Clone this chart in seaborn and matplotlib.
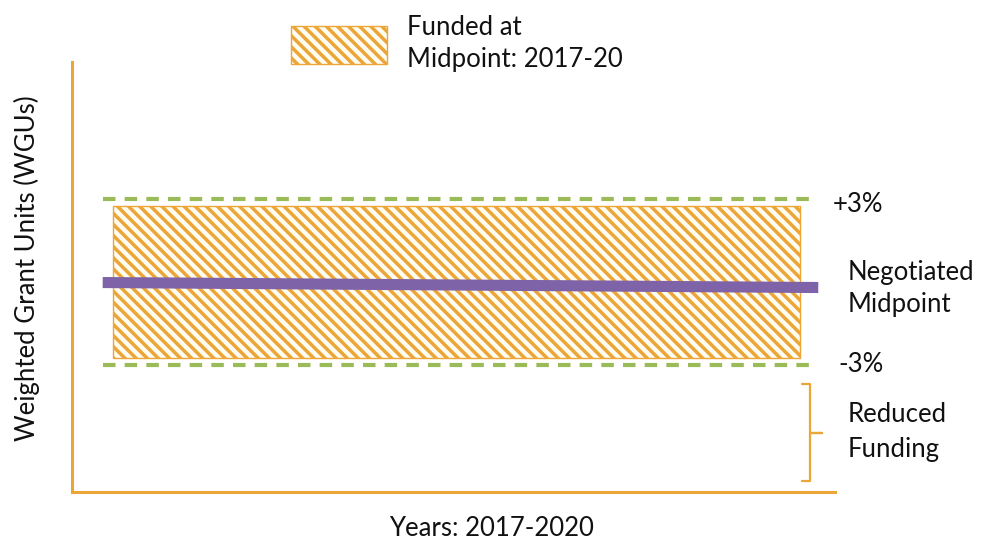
import numpy as np
import pandas as pd
import matplotlib
matplotlib.use("Agg")
import matplotlib.pyplot as plt
import seaborn as sns

# Funding corridor around the negotiated midpoint (in WGUs, midpoint = 100)
years = [2017, 2020]
midpoint_line = [99.98, 99.80]          # negotiated midpoint across the period
corridor = [97.0, 103.0]                # -3% / +3% thresholds
funded_band = [97.25, 102.75]           # funded-at-midpoint block
reduced_range = [96.3, 92.8]            # zone below -3% (reduced funding)
corridor_labels = ["+3%", "-3%"]

ORANGE = "#ECA637"
GREEN = "#9BBB59"
PURPLE = "#7F63A8"
TEXT = "#111111"
FS = 18.5

sns.set_theme(style="white")
plt.rcParams["font.family"] = ["Lato", "DejaVu Sans"]
plt.rcParams["hatch.linewidth"] = 2.5
plt.rcParams["hatch.color"] = ORANGE

W, H = 985, 541
fig = plt.figure(figsize=(W / 100, H / 100), dpi=100)
ax = fig.add_axes([72 / W, (H - 492) / H, (835 - 72) / W, (492 - 62) / H])

ax.set_xlim(2016.821, 2020.153)
ax.set_ylim(92.41, 107.95)

# funded block
ax.bar(years[0], funded_band[1] - funded_band[0], width=years[1] - years[0],
       bottom=funded_band[0], align="edge", facecolor="#FFFCF2",
       edgecolor=ORANGE, hatch="\\\\\\", linewidth=1.0,
       label="Funded at\nMidpoint: 2017-20", zorder=2)

# +/-3% thresholds
span = [years[0] - 0.045, years[1] + 0.075]
for level in corridor:
    df = pd.DataFrame({"year": span, "wgu": [level, level]})
    sns.lineplot(data=df, x="year", y="wgu", ax=ax, color=GREEN, lw=3.0,
                 linestyle=(0, (3.0, 2.2)), zorder=3)

# negotiated midpoint
mid_df = pd.DataFrame({"year": [years[0] - 0.045, years[1] + 0.08],
                       "wgu": midpoint_line})
sns.lineplot(data=mid_df, x="year", y="wgu", ax=ax, color=PURPLE, lw=8,
             solid_capstyle="butt", zorder=4)

# reduced funding bracket
bx = years[1] + 0.045
bracket_x = [bx - 0.035, bx, bx, bx + 0.05, bx, bx, bx - 0.035]
bmid = np.mean(reduced_range)
bracket_y = [reduced_range[0], reduced_range[0], bmid, bmid, bmid,
             reduced_range[1], reduced_range[1]]
ax.plot(bracket_x, bracket_y, color=ORANGE, lw=1.6, clip_on=False,
        solid_joinstyle="round")

# right-hand annotations
tx = years[1] + 0.21
ax.text(years[1] + 0.144, corridor[1] - 0.2, corridor_labels[0], fontsize=FS,
        va="center", ha="left", color=TEXT, clip_on=False)
ax.text(years[1] + 0.166, corridor[0], corridor_labels[1], fontsize=FS,
        va="center", ha="left", color=TEXT, clip_on=False)
ax.text(tx, np.mean(midpoint_line) - 0.12, "Negotiated\nMidpoint", fontsize=FS,
        va="center", ha="left", color=TEXT, linespacing=1.35,
        clip_on=False)
ax.text(tx, bmid + 0.02, "Reduced\nFunding", fontsize=FS,
        va="center", ha="left", color=TEXT, linespacing=1.5,
        clip_on=False)

# axes styling
ax.set_xticks([])
ax.set_yticks([])
for side in ["top", "right"]:
    ax.spines[side].set_visible(False)
for side in ["left", "bottom"]:
    ax.spines[side].set_color(ORANGE)
    ax.spines[side].set_linewidth(2.2)
ax.set_xlabel("")
ax.set_ylabel("")

fig.text(27 / W, 1 - 268 / H, "Weighted Grant Units (WGUs)", rotation=90,
         fontsize=FS, ha="center", va="center", color=TEXT)
fig.text(491 / W, 1 - 528 / H, "Years: 2017-2020", fontsize=FS,
         ha="center", va="center", color=TEXT)

leg = ax.legend(loc="upper left", bbox_to_anchor=(291 / W, 1 - 15 / H),
                bbox_transform=fig.transFigure, frameon=False,
                handlelength=3.75, handleheight=1.9, handletextpad=0.78,
                fontsize=FS, borderpad=0, borderaxespad=0)
for t in leg.get_texts():
    t.set_linespacing(1.35)
    t.set_color(TEXT)

fig.savefig("out.png", dpi=100)
